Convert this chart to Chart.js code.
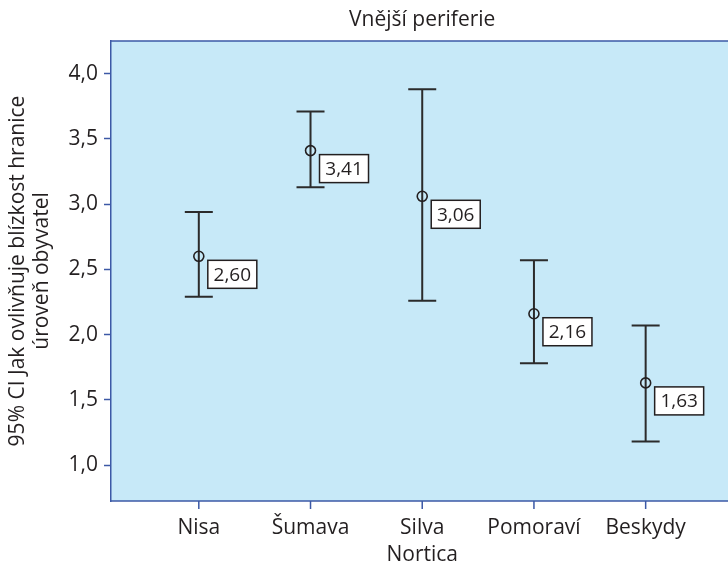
<!DOCTYPE html>
<html>
<head>
<meta charset="utf-8">
<script src="https://cdn.jsdelivr.net/npm/chart.js@4"></script>
<style>
html,body{margin:0;padding:0;background:#fff;overflow:hidden;}
#wrap{width:728px;height:562px;position:relative;}
</style>
</head>
<body>
<div id="wrap"><canvas id="c" width="728" height="562"></canvas></div>
<script>
const categories = [["Nisa"], ["Šumava"], ["Silva", "Nortica"], ["Pomoraví"], ["Beskydy"]];
const means = [2.60, 3.41, 3.06, 2.16, 1.63];
const lowerCI = [2.29, 3.13, 2.26, 1.78, 1.18];
const upperCI = [2.94, 3.71, 3.88, 2.57, 2.07];
const meanLabels = ["2,60", "3,41", "3,06", "2,16", "1,63"];
const yTickValues = [1.0, 1.5, 2.0, 2.5, 3.0, 3.5, 4.0];
const chartTitle = "Vnější periferie";
const yTitle = ["95% CI Jak ovlivňuje blízkost hranice", "úroveň obyvatel"];

const FONT = "'Open Sans', 'Noto Sans', sans-serif";
const TXT = "#231f20";
const AXIS = "#3c59a6";
const BG = "#c7e9f8";

const points = means.map((m, i) => ({x: i, y: m}));

const framePlugin = {
  id: 'frame',
  beforeDraw(chart) {
    const {ctx, chartArea: a, width} = chart;
    ctx.save();
    ctx.fillStyle = BG;
    ctx.fillRect(a.left, a.top, width - a.left, a.bottom - a.top);
    ctx.restore();
  },
  afterDraw(chart) {
    const {ctx, chartArea: a, width, height, scales: {x}} = chart;
    ctx.save();
    // clean strip right of the last category label (plot continues past the page edge)
    ctx.fillStyle = "#ffffff";
    ctx.fillRect(a.right - 15, a.bottom + 1, width - a.right + 15, height - a.bottom);
    ctx.strokeStyle = AXIS;
    ctx.lineWidth = 1.5;
    ctx.beginPath();
    ctx.moveTo(a.left - 0.75, a.top);
    ctx.lineTo(width, a.top);
    ctx.moveTo(a.left - 0.75, a.bottom);
    ctx.lineTo(width, a.bottom);
    // category tick marks below the axis
    x.ticks.forEach(t => {
      const px = x.getPixelForValue(t.value);
      ctx.moveTo(px, a.bottom);
      ctx.lineTo(px, a.bottom + 8);
    });
    ctx.stroke();
    // title centred over the (extended) plot region
    ctx.fillStyle = TXT;
    ctx.font = "21px " + FONT;
    ctx.textAlign = "center";
    ctx.textBaseline = "middle";
    ctx.fillText(chartTitle, x.getPixelForValue(2), 20);
    ctx.restore();
  }
};

const errPlugin = {
  id: 'err',
  beforeDatasetsDraw(chart) {
    const {ctx, scales: {x, y}} = chart;
    ctx.save();
    ctx.strokeStyle = "#2b2b2b";
    ctx.lineWidth = 2;
    for (let i = 0; i < means.length; i++) {
      const px = x.getPixelForValue(i);
      const yl = y.getPixelForValue(lowerCI[i]);
      const yu = y.getPixelForValue(upperCI[i]);
      ctx.beginPath();
      ctx.moveTo(px, yu); ctx.lineTo(px, yl);
      ctx.moveTo(px - 14, yu); ctx.lineTo(px + 14, yu);
      ctx.moveTo(px - 14, yl); ctx.lineTo(px + 14, yl);
      ctx.stroke();
    }
    ctx.restore();
  },
  afterDatasetsDraw(chart) {
    const {ctx, scales: {x, y}} = chart;
    ctx.save();
    ctx.font = "19px " + FONT;
    ctx.textAlign = "center";
    ctx.textBaseline = "middle";
    for (let i = 0; i < means.length; i++) {
      const px = x.getPixelForValue(i);
      const py = y.getPixelForValue(means[i]);
      const bx = px + 9, by = py + 4, bw = 49, bh = 28;
      ctx.fillStyle = "#ffffff";
      ctx.fillRect(bx, by, bw, bh);
      ctx.strokeStyle = "#231f20";
      ctx.lineWidth = 1.5;
      ctx.strokeRect(bx, by, bw, bh);
      ctx.fillStyle = TXT;
      ctx.fillText(meanLabels[i], bx + bw / 2, by + bh / 2 + 1);
    }
    ctx.restore();
  }
};

new Chart(document.getElementById('c'), {
  type: 'scatter',
  data: {
    datasets: [{
      data: points,
      pointStyle: 'circle',
      pointRadius: 5,
      pointHoverRadius: 5,
      pointBorderWidth: 1.6,
      borderColor: "#231f20",
      backgroundColor: 'rgba(0,0,0,0)',
      showLine: false
    }]
  },
  options: {
    responsive: false,
    animation: false,
    events: [],
    layout: {padding: {left: 0, right: 0, top: 41, bottom: 0}},
    plugins: {
      legend: {display: false},
      tooltip: {enabled: false},
      title: {display: false}
    },
    scales: {
      x: {
        type: 'linear',
        min: -0.786,
        max: 4.678,
        afterBuildTicks(s) { s.ticks = categories.map((c, i) => ({value: i})); },
        afterFit(s) { s.height = 61; },
        ticks: {
          autoSkip: false,
          maxRotation: 0,
          padding: 5,
          color: TXT,
          font: {family: FONT, size: 21, lineHeight: 1.3},
          callback: (v) => categories[v]
        },
        grid: {drawOnChartArea: false, drawTicks: true, tickLength: 8, color: 'rgba(0,0,0,0)'},
        border: {display: false}
      },
      y: {
        type: 'linear',
        min: 0.725,
        max: 4.25,
        afterBuildTicks(s) { s.ticks = yTickValues.map(v => ({value: v})); },
        afterFit(s) { s.width = 111; },
        ticks: {
          padding: 6,
          color: TXT,
          font: {family: FONT, size: 21},
          callback: (v) => v.toFixed(1).replace('.', ',')
        },
        grid: {drawOnChartArea: false, drawTicks: true, tickLength: 7, color: AXIS, tickWidth: 1.5},
        border: {display: true, color: AXIS, width: 1.5},
        title: {
          display: true,
          text: yTitle,
          color: TXT,
          font: {family: FONT, size: 21, lineHeight: 1.15},
          padding: {top: 6, bottom: 0}
        }
      }
    }
  },
  plugins: [framePlugin, errPlugin]
});
</script>
</body>
</html>
